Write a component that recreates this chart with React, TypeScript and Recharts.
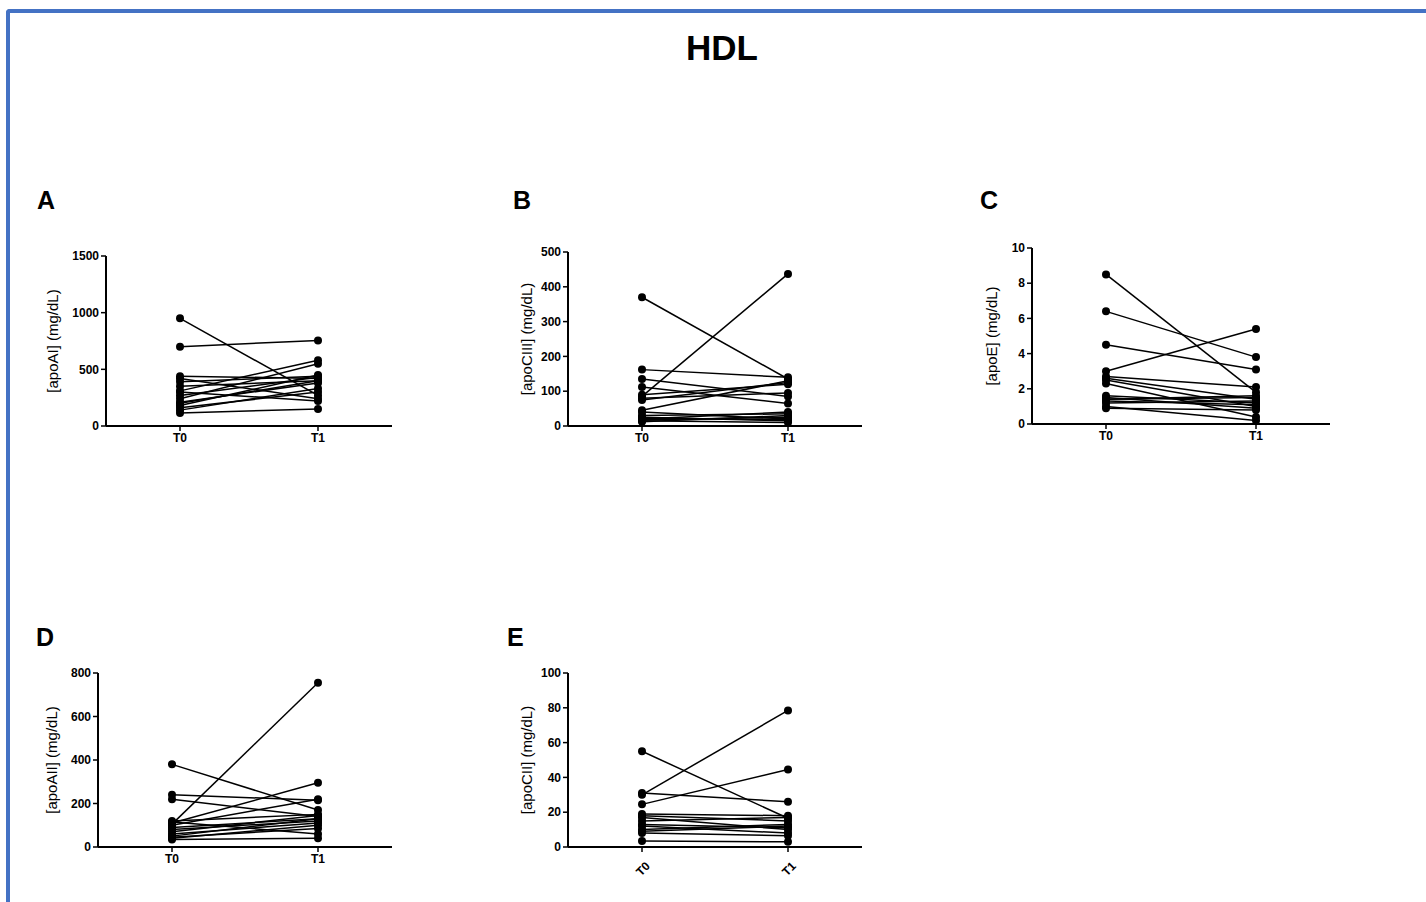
import { LineChart, Line, XAxis, YAxis } from "recharts";

const timepoints = ["T0", "T1"];

// A: apoAI
const apoAIT0 = [950, 700, 440, 420, 390, 350, 310, 270, 240, 210, 180, 160, 140, 115, 300, 200];
const apoAIT1 = [270, 755, 420, 240, 440, 400, 580, 430, 550, 380, 450, 300, 330, 150, 220, 400];
const apoAITicks = [0, 500, 1000, 1500];

// B: apoCIII
const apoCIIIT0 = [370, 85, 162, 135, 112, 90, 75, 45, 80, 40, 30, 25, 20, 18, 15, 12, 22];
const apoCIIIT1 = [135, 437, 140, 85, 65, 120, 125, 130, 95, 20, 35, 15, 40, 25, 10, 30, 18];
const apoCIIITicks = [0, 100, 200, 300, 400, 500];

// C: apoE
const apoET0 = [8.5, 6.4, 4.5, 3.0, 2.7, 2.6, 2.5, 2.3, 1.6, 1.5, 1.4, 1.3, 1.2, 1.0, 0.9, 1.4];
const apoET1 = [1.8, 3.8, 3.1, 5.4, 2.1, 1.4, 1.0, 0.4, 1.2, 0.9, 1.5, 1.1, 1.3, 0.2, 0.8, 1.6];
const apoETicks = [0, 2, 4, 6, 8, 10];

// D: apoAII
const apoAIIT0 = [380, 105, 240, 220, 110, 100, 120, 90, 115, 60, 50, 45, 35, 40, 80, 70];
const apoAIIT1 = [170, 755, 215, 140, 295, 220, 150, 130, 60, 110, 130, 85, 40, 100, 120, 145];
const apoAIITicks = [0, 200, 400, 600, 800];

// E: apoCII
const apoCIIT0 = [55, 30, 24.5, 31, 19, 18, 15, 13, 12, 10, 9, 8, 3.5, 17];
const apoCIIT1 = [16.5, 78.5, 44.5, 26, 18, 15, 17, 11, 8, 13, 12, 6.5, 3, 10];
const apoCIITicks = [0, 20, 40, 60, 80, 100];

const FONT = "Arial, 'Liberation Sans', sans-serif";

type PanelProps = {
  t0: number[];
  t1: number[];
  ticks: number[];
  label: string;
  left: number;
  top: number;
  width: number;
  height: number;
  labelOffset: number;
  rotated?: boolean;
};

function RotatedTick(props: any) {
  const { x, y, payload } = props;
  return (
    <g transform={`translate(${x + 6},${y + 10})`}>
      <text
        textAnchor="end"
        transform="rotate(-45)"
        fontSize={12}
        fontWeight="bold"
        fontFamily={FONT}
        fill="#000"
        dy={4}
      >
        {payload.value}
      </text>
    </g>
  );
}

function Panel({ t0, t1, ticks, label, left, top, width, height, labelOffset, rotated }: PanelProps) {
  const rows = timepoints.map((tp, k) => {
    const row: Record<string, number | string> = { time: tp };
    const vals = k === 0 ? t0 : t1;
    vals.forEach((v, i) => {
      row[`s${i}`] = v;
    });
    return row;
  });
  const tickStyle = { fontSize: 12, fontWeight: "bold", fill: "#000", fontFamily: FONT };
  return (
    <div style={{ position: "absolute", left, top }}>
      <LineChart
        width={width}
        height={height}
        data={rows}
        margin={{ top: 10, right: 10, left: 0, bottom: 0 }}
      >
        <XAxis
          dataKey="time"
          height={rotated ? 40 : 30}
          padding={{ left: 74, right: 74 }}
          axisLine={{ stroke: "#000", strokeWidth: 2 }}
          tickLine={{ stroke: "#000", strokeWidth: 1.5 }}
          tickSize={5}
          tick={rotated ? <RotatedTick /> : tickStyle}
          interval={0}
        />
        <YAxis
          width={70}
          domain={[ticks[0], ticks[ticks.length - 1]]}
          ticks={ticks}
          interval={0}
          axisLine={{ stroke: "#000", strokeWidth: 2 }}
          tickLine={{ stroke: "#000", strokeWidth: 1.5 }}
          tickSize={5}
          tickMargin={2}
          tick={tickStyle}
          label={{
            value: label,
            angle: -90,
            position: "insideLeft",
            offset: labelOffset,
            style: { textAnchor: "middle", fontSize: 15, fill: "#000", fontFamily: FONT },
          }}
        />
        {t0.map((_, i) => (
          <Line
            key={i}
            dataKey={`s${i}`}
            stroke="#000"
            strokeWidth={1.5}
            dot={{ r: 4, fill: "#000", stroke: "#000", strokeWidth: 0 }}
            activeDot={false}
            isAnimationActive={false}
          />
        ))}
      </LineChart>
    </div>
  );
}

export default function App() {
  const letter = { fontFamily: FONT, fontWeight: "bold" as const, fontSize: 25, fill: "#000" };
  return (
    <div
      style={{
        position: "absolute",
        left: 0,
        top: 0,
        width: 1426,
        height: 902,
        overflow: "hidden",
        background: "#fff",
      }}
    >
      <div
        style={{
          position: "absolute",
          left: 6,
          top: 9,
          width: 1440,
          height: 910,
          borderTop: "4px solid #4472C4",
          borderLeft: "4px solid #4472C4",
          borderTopLeftRadius: 4,
        }}
      />
      <svg
        width={1426}
        height={902}
        style={{ position: "absolute", left: 0, top: 0, pointerEvents: "none" }}
      >
        <text x={722} y={60} textAnchor="middle" fontFamily={FONT} fontWeight="bold" fontSize={35} fill="#000">
          HDL
        </text>
        <text x={37} y={209} {...letter}>A</text>
        <text x={513} y={209} {...letter}>B</text>
        <text x={980} y={209} {...letter}>C</text>
        <text x={36} y={646} {...letter}>D</text>
        <text x={507} y={646} {...letter}>E</text>
      </svg>
      <Panel t0={apoAIT0} t1={apoAIT1} ticks={apoAITicks} label="[apoAI] (mg/dL)"
        left={36} top={246} width={366} height={210} labelOffset={17} />
      <Panel t0={apoCIIIT0} t1={apoCIIIT1} ticks={apoCIIITicks} label="[apoCIII] (mg/dL)"
        left={498} top={242} width={374} height={214} labelOffset={29} />
      <Panel t0={apoET0} t1={apoET1} ticks={apoETicks} label="[apoE] (mg/dL)"
        left={962} top={238} width={378} height={216} labelOffset={30} />
      <Panel t0={apoAIIT0} t1={apoAIIT1} ticks={apoAIITicks} label="[apoAII] (mg/dL)"
        left={28} top={663} width={374} height={214} labelOffset={24} />
      <Panel t0={apoCIIT0} t1={apoCIIT1} ticks={apoCIITicks} label="[apoCII] (mg/dL)"
        left={498} top={663} width={374} height={224} labelOffset={29} rotated />
    </div>
  );
}
